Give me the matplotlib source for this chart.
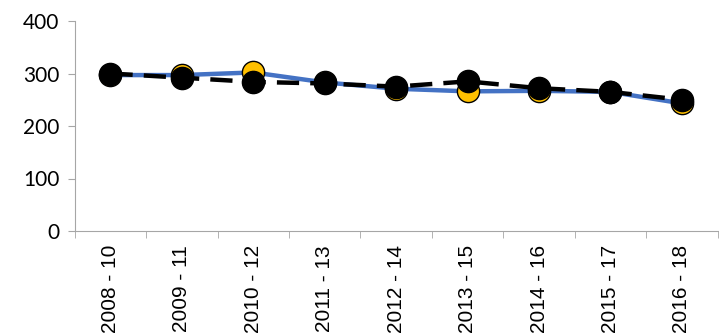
import matplotlib
matplotlib.use("Agg")
import matplotlib.pyplot as plt
import numpy as np

periods = ['2008 - 10', '2009 - 11', '2010 - 12', '2011 - 13', '2012 - 14',
           '2013 - 15', '2014 - 16', '2015 - 17', '2016 - 18']
series_solid = [297, 297, 302, 283, 271, 266, 267, 265, 243]
series_dashed = [300, 292, 284, 281, 275, 285, 272, 265, 250]


def main():
    fig = plt.figure(figsize=(7.19, 3.36), dpi=100)
    ax = fig.add_axes([0.104, 0.3125, 0.894, 0.625])

    x = np.arange(len(periods))
    ax.plot(x, series_solid, color='#4472C4', lw=3.2, marker='o', ms=16,
            mfc='#FFC000', mec='black', mew=1.0, zorder=3)
    ax.plot(x, series_dashed, color='black', lw=3.2, ls=(0, (5, 2.5)),
            marker='o', ms=16, mfc='black', mec='black', zorder=4)

    ax.set_xlim(-0.5, len(periods) - 0.5)
    ax.set_ylim(0, 400)
    ax.set_yticks([0, 100, 200, 300, 400])
    ax.set_xticks(x)
    ax.set_xticklabels(periods, rotation=90, family='Liberation Sans', fontsize=15)
    ax.set_xticks(np.arange(len(periods) + 1) - 0.5, minor=True)
    ax.tick_params(axis='x', which='major', length=0, pad=10)
    ax.tick_params(axis='x', which='minor', length=5, color='#A6A6A6')
    ax.tick_params(axis='y', length=5, color='#A6A6A6', labelsize=15, pad=6)
    for lab in ax.get_yticklabels():
        lab.set_family('Lato')

    for s in ['top', 'right']:
        ax.spines[s].set_visible(False)
    for s in ['left', 'bottom']:
        ax.spines[s].set_color('#A6A6A6')

    fig.savefig("out.png", dpi=100)


if __name__ == "__main__":
    main()
